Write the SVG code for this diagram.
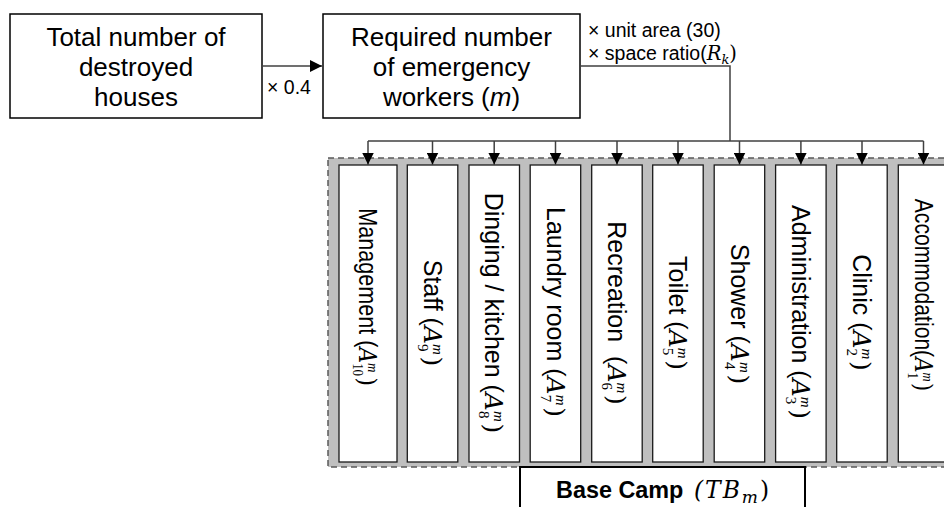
<svg xmlns="http://www.w3.org/2000/svg" width="944" height="507" viewBox="0 0 944 507">
<style>
.box{fill:#fff;stroke:#000;stroke-width:1.5}
.slot{fill:#fff;stroke:#1a1a1a;stroke-width:1.3}
.t{font-family:"Liberation Sans",Arial,sans-serif;fill:#000}
.big{font-size:26px}
.small{font-size:19.5px}
.lab{font-family:"Liberation Sans",Arial,sans-serif;font-size:25px;fill:#000}
.mi{font-family:"DejaVu Serif","Liberation Serif",serif;font-style:italic}
.mr{font-family:"DejaVu Serif","Liberation Serif",serif}
.si{font-family:"Liberation Serif","Times New Roman",serif;font-style:italic;font-size:15px}
.sr{font-family:"Liberation Serif","Times New Roman",serif;font-size:15px}
.conn{fill:none;stroke:#404040;stroke-width:1.5}
</style>
<defs>
<marker id="ah" viewBox="0 0 12 12" refX="12" refY="6" markerWidth="12" markerHeight="12" markerUnits="userSpaceOnUse" orient="auto">
<path d="M0,0 L12,6 L0,12 z" fill="#000"/>
</marker>
</defs>

<g id="container">
<rect x="328" y="158" width="640" height="309" fill="#bfbfbf" stroke="#595959" stroke-width="1.5" stroke-dasharray="6,4"/>
</g>

<g id="n-total">
<rect class="box" x="10" y="14" width="252" height="104"/>
<text class="t big" text-anchor="middle"><tspan x="136" y="46">Total number of</tspan><tspan x="136" y="76">destroyed</tspan><tspan x="136" y="106">houses</tspan></text>
</g>

<g id="n-workers">
<rect class="box" x="323" y="14" width="257" height="104"/>
<text class="t big" text-anchor="middle"><tspan x="451.5" y="46">Required number</tspan><tspan x="451.5" y="76">of emergency</tspan><tspan x="451.5" y="106">workers (<tspan font-style="italic">m</tspan>)</tspan></text>
</g>

<g id="connectors">
<line class="conn" x1="262" y1="66" x2="322" y2="66" marker-end="url(#ah)"/>
<path class="conn" d="M580,66 H730 V141"/>
<line class="conn" x1="368" y1="141" x2="923.5" y2="141"/>
<line class="conn" x1="368" y1="141" x2="368" y2="164.5" marker-end="url(#ah)"/>
<line class="conn" x1="432.5" y1="141" x2="432.5" y2="164.5" marker-end="url(#ah)"/>
<line class="conn" x1="494.2" y1="141" x2="494.2" y2="164.5" marker-end="url(#ah)"/>
<line class="conn" x1="555.5" y1="141" x2="555.5" y2="164.5" marker-end="url(#ah)"/>
<line class="conn" x1="617" y1="141" x2="617" y2="164.5" marker-end="url(#ah)"/>
<line class="conn" x1="678" y1="141" x2="678" y2="164.5" marker-end="url(#ah)"/>
<line class="conn" x1="739.5" y1="141" x2="739.5" y2="164.5" marker-end="url(#ah)"/>
<line class="conn" x1="800.9" y1="141" x2="800.9" y2="164.5" marker-end="url(#ah)"/>
<line class="conn" x1="862" y1="141" x2="862" y2="164.5" marker-end="url(#ah)"/>
<line class="conn" x1="923.5" y1="141" x2="923.5" y2="164.5" marker-end="url(#ah)"/>
<text class="t small" x="267" y="94">× 0.4</text>
<text class="t small" x="588" y="37">× unit area (30)</text>
<text class="t small" x="588" y="60">× space ratio(<tspan class="mi">R</tspan><tspan class="mi" style="font-size:13px" dy="4">k</tspan><tspan class="mr" dy="-4">)</tspan></text>
</g>

<g id="s10">
<rect class="slot" x="339" y="165" width="58" height="297"/>
<text class="lab" text-anchor="middle" transform="translate(359,297) rotate(90) scale(0.865,1)">Management (<tspan class="mi">A</tspan><tspan class="si" dy="-9">m</tspan><tspan class="sr" dx="-10.8" dy="15">10</tspan><tspan class="mr" dx="1.5" dy="-6">)</tspan></text>
</g>
<g id="s9">
<rect class="slot" x="407.3" y="165" width="50.5" height="297"/>
<text class="lab" text-anchor="middle" transform="translate(423.5,313) rotate(90)">Staff (<tspan class="mi">A</tspan><tspan class="si" dy="-9">m</tspan><tspan class="sr" dx="-10.8" dy="15">9</tspan><tspan class="mr" dx="5" dy="-6">)</tspan></text>
</g>
<g id="s8">
<rect class="slot" x="469" y="165" width="50.5" height="297"/>
<text class="lab" text-anchor="middle" transform="translate(485.2,313) rotate(90)">Dinging / kitchen (<tspan class="mi">A</tspan><tspan class="si" dy="-9">m</tspan><tspan class="sr" dx="-10.8" dy="15">8</tspan><tspan class="mr" dx="5" dy="-6">)</tspan></text>
</g>
<g id="s7">
<rect class="slot" x="530.2" y="165" width="50.5" height="297"/>
<text class="lab" text-anchor="middle" transform="translate(546.5,312) rotate(90)">Laundry room (<tspan class="mi">A</tspan><tspan class="si" dy="-9">m</tspan><tspan class="sr" dx="-10.8" dy="15">7</tspan><tspan class="mr" dx="5" dy="-6">)</tspan></text>
</g>
<g id="s6">
<rect class="slot" x="591.7" y="165" width="50.5" height="297"/>
<text class="lab" text-anchor="middle" transform="translate(608,313) rotate(90)">Recreation <tspan dx="7">(</tspan><tspan class="mi">A</tspan><tspan class="si" dy="-9">m</tspan><tspan class="sr" dx="-10.8" dy="15">6</tspan><tspan class="mr" dx="5" dy="-6">)</tspan></text>
</g>
<g id="s5">
<rect class="slot" x="652.7" y="165" width="50.5" height="297"/>
<text class="lab" text-anchor="middle" transform="translate(669,313) rotate(90)">Toilet (<tspan class="mi">A</tspan><tspan class="si" dy="-9">m</tspan><tspan class="sr" dx="-10.8" dy="15">5</tspan><tspan class="mr" dx="5" dy="-6">)</tspan></text>
</g>
<g id="s4">
<rect class="slot" x="714.2" y="165" width="50.5" height="297"/>
<text class="lab" text-anchor="middle" transform="translate(730.5,314) rotate(90)">Shower (<tspan class="mi">A</tspan><tspan class="si" dy="-9">m</tspan><tspan class="sr" dx="-10.8" dy="15">4</tspan><tspan class="mr" dx="5" dy="-6">)</tspan></text>
</g>
<g id="s3">
<rect class="slot" x="775.6" y="165" width="50.5" height="297"/>
<text class="lab" text-anchor="middle" transform="translate(791.9,312) rotate(90)">Administration (<tspan class="mi">A</tspan><tspan class="si" dy="-9">m</tspan><tspan class="sr" dx="-10.8" dy="15">3</tspan><tspan class="mr" dx="5" dy="-6">)</tspan></text>
</g>
<g id="s2">
<rect class="slot" x="836.7" y="165" width="50.5" height="297"/>
<text class="lab" text-anchor="middle" transform="translate(853,312.5) rotate(90)">Clinic (<tspan class="mi">A</tspan><tspan class="si" dy="-9">m</tspan><tspan class="sr" dx="-10.8" dy="15">2</tspan><tspan class="mr" dx="5" dy="-6">)</tspan></text>
</g>
<g id="s1">
<rect class="slot" x="898.3" y="165" width="50.5" height="297"/>
<text class="lab" text-anchor="middle" transform="translate(914.5,295) rotate(90) scale(0.845,1)">Accommodation(<tspan class="mi">A</tspan><tspan class="si" dy="-9">m</tspan><tspan class="sr" dx="-10.8" dy="15">1</tspan><tspan class="mr" dx="5" dy="-6">)</tspan></text>
</g>

<g id="basecamp">
<rect x="520" y="467" width="285" height="60" fill="#fff" stroke="#000" stroke-width="2"/>
<text class="t" font-size="23.4" font-weight="bold" x="556" y="498">Base Camp <tspan class="mi" font-weight="normal" dx="4" letter-spacing="2">(TB</tspan><tspan class="mi" font-weight="normal" font-size="17" dy="5">m</tspan><tspan class="mr" font-weight="normal" dx="2" dy="-5">)</tspan></text>
</g>
</svg>
